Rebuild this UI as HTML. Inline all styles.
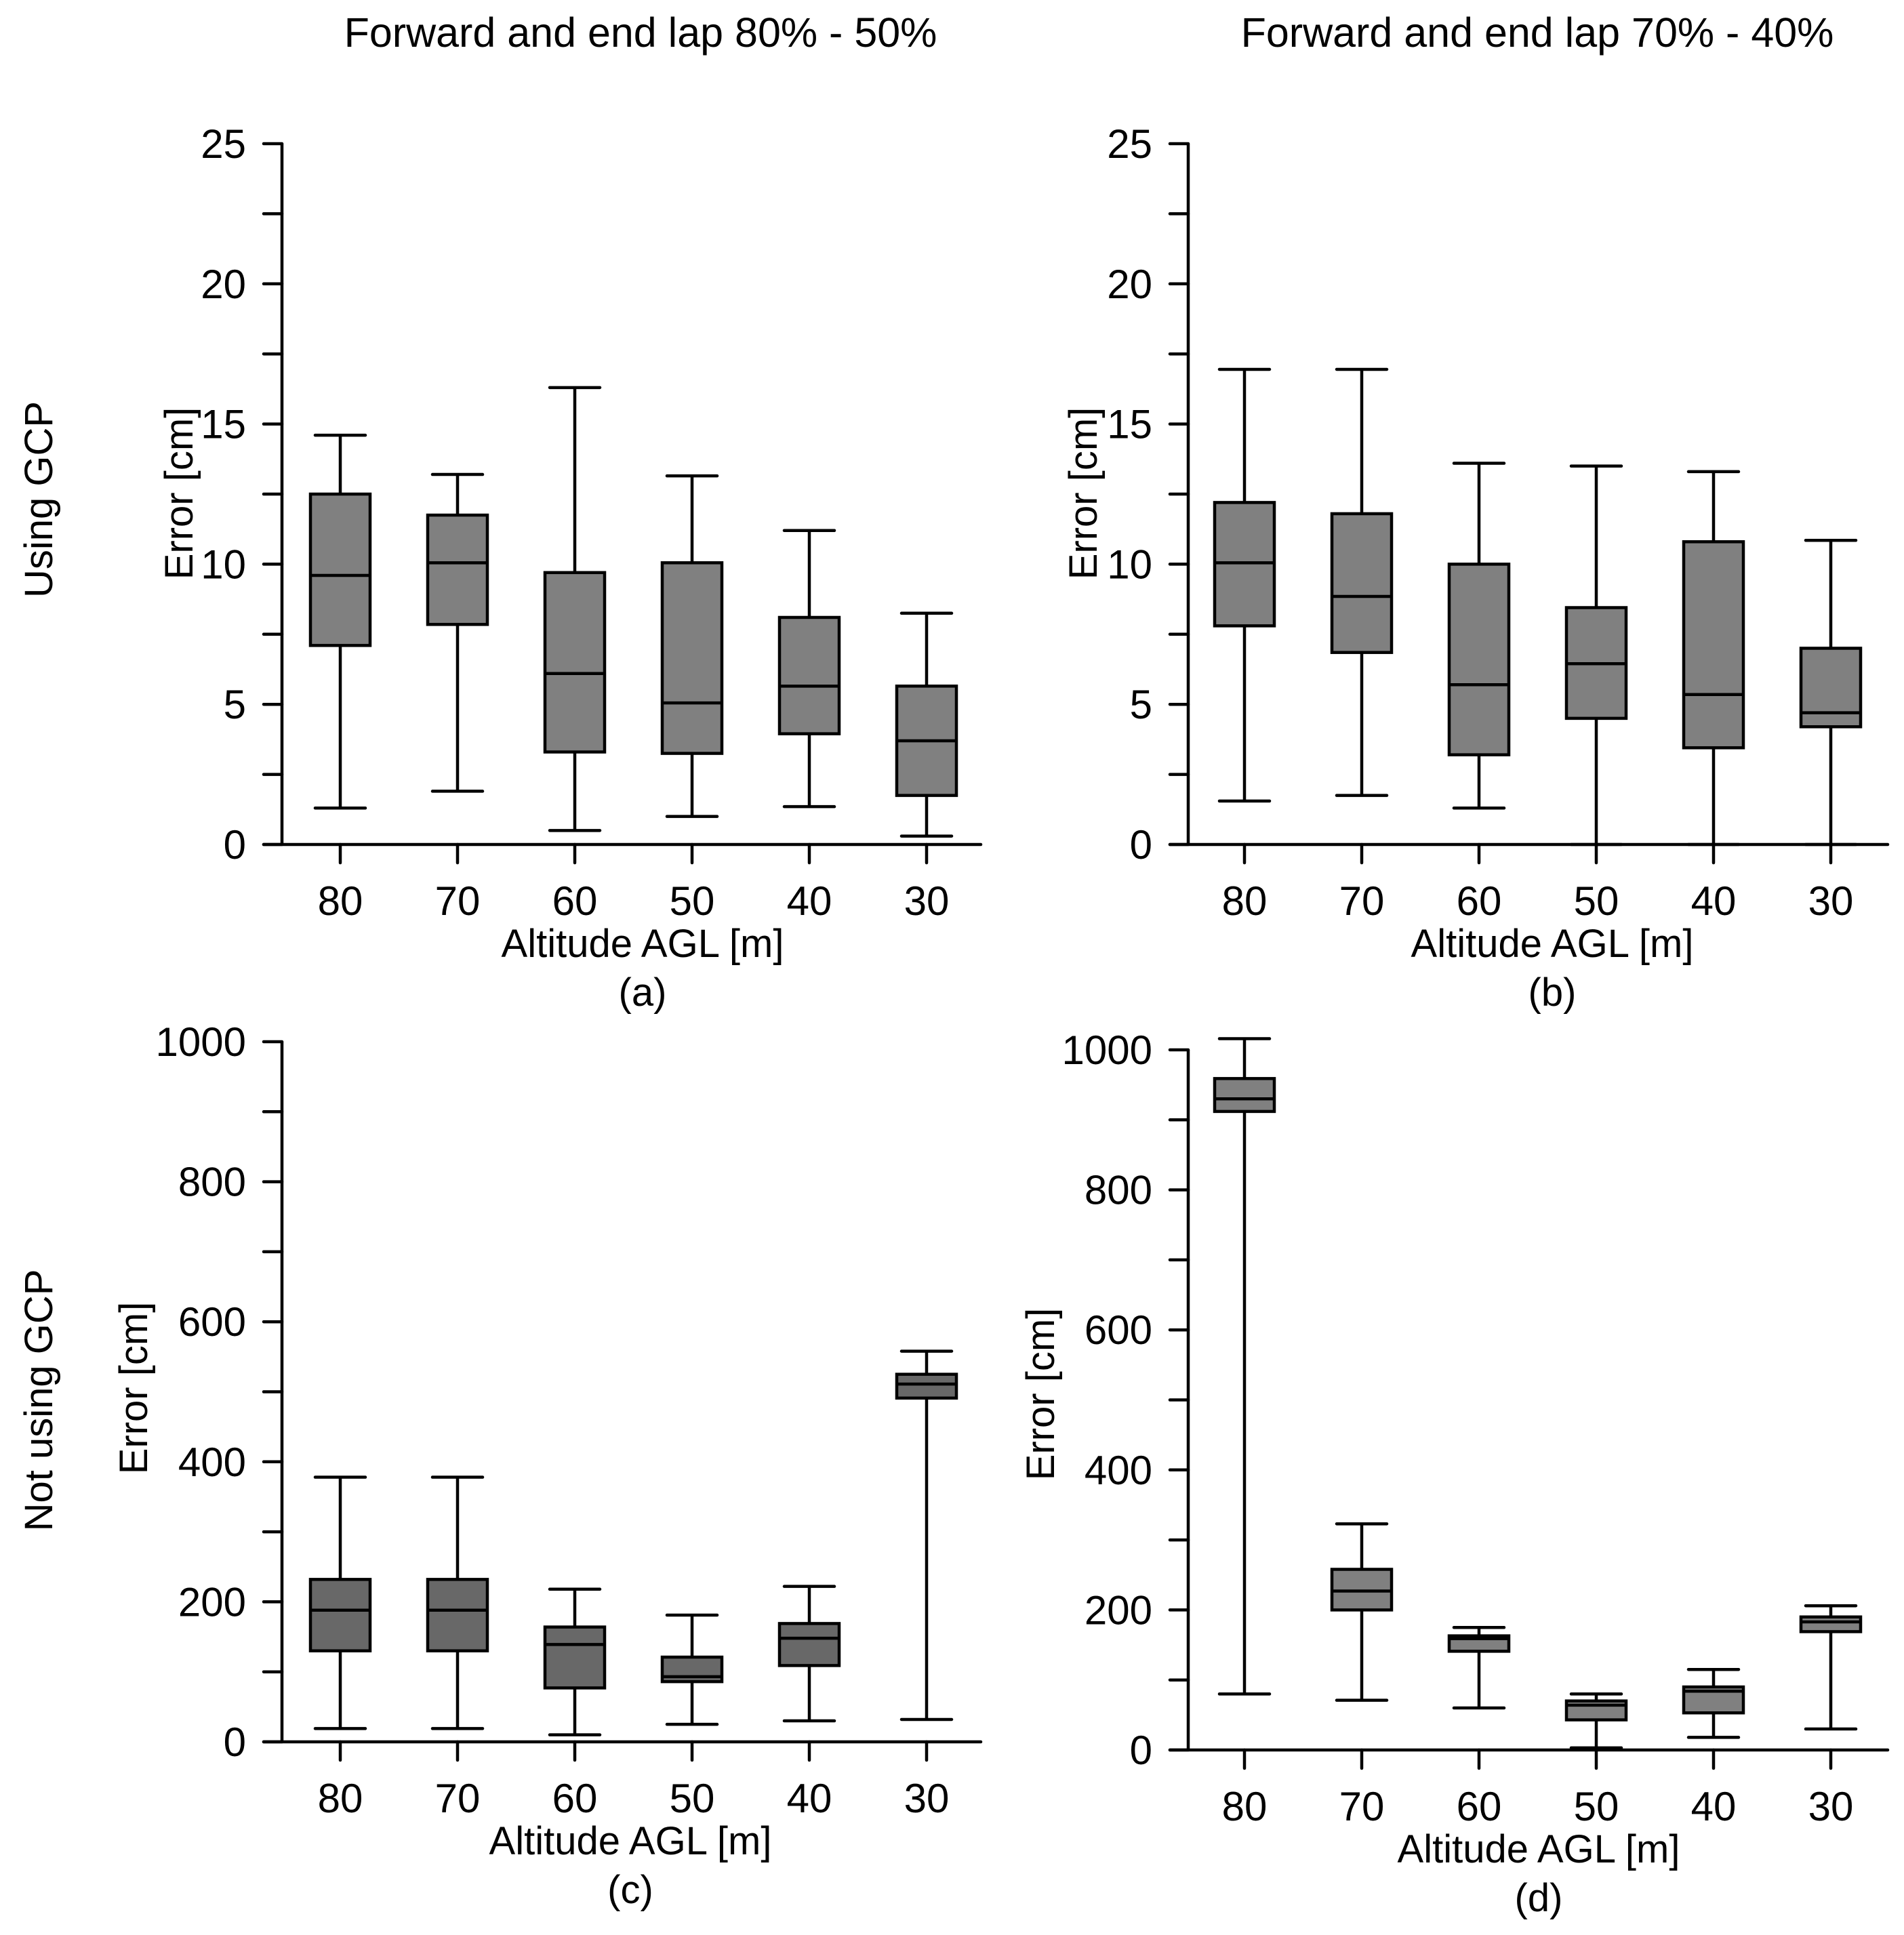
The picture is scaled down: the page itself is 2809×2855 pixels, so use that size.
<!DOCTYPE html>
<html><head><meta charset="utf-8"><style>
html,body{margin:0;padding:0;background:#fff}
svg{display:block}
text{font-family:"Liberation Sans",Arial,sans-serif;fill:#000}
</style></head><body>
<svg id="fig" width="2809" height="2855" viewBox="0 0 2809 2855" xmlns="http://www.w3.org/2000/svg">
<text x="945" y="69" font-size="61" text-anchor="middle">Forward and end lap 80% - 50%</text>
<text x="2268" y="69" font-size="61" text-anchor="middle">Forward and end lap 70% - 40%</text>
<text x="0" y="0" font-size="58" text-anchor="middle" transform="translate(77,737) rotate(-90)">Using GCP</text>
<text x="0" y="0" font-size="58" text-anchor="middle" transform="translate(77,2066) rotate(-90)">Not using GCP</text>
</svg>
<script>
const categories = ["80","70","60","50","40","30"];
// panel a
const aLow=[1.3,1.9,0.5,1.0,1.35,0.3];
const aQ1=[7.1,7.85,3.3,3.25,3.95,1.75];
const aMed=[9.6,10.05,6.1,5.05,5.65,3.7];
const aQ3=[12.5,11.75,9.7,10.05,8.1,5.65];
const aHigh=[14.6,13.2,16.3,13.15,11.2,8.25];
// panel b
const bLow=[1.55,1.75,1.3,0,0,0];
const bQ1=[7.8,6.85,3.2,4.5,3.45,4.2];
const bMed=[10.05,8.85,5.7,6.45,5.35,4.7];
const bQ3=[12.2,11.8,10.0,8.45,10.8,7.0];
const bHigh=[16.95,16.95,13.6,13.5,13.3,10.85];
// panel c
const cLow=[19,19,10,25,30,32];
const cQ1=[130,130,77,86,109,491];
const cMed=[188,188,139,93,148,511];
const cQ3=[232,232,164,121,169,525];
const cHigh=[378,378,218,181,222,558];
// panel d
const dLow=[80,71,60,3,18,30];
const dQ1=[912,200,141,43,53,169];
const dMed=[930,227,159,64,84,183];
const dQ3=[959,258,163,70,90,190];
const dHigh=[1016,323,175,80,115,206];
const smallTicks=[0,5,10,15,20,25];
const bigTicks=[0,200,400,600,800,1000];

const NS="http://www.w3.org/2000/svg";
const svg=document.getElementById('fig');
function mk(tag,attrs,parent){const e=document.createElementNS(NS,tag);for(const k in attrs)e.setAttribute(k,attrs[k]);(parent||svg).appendChild(e);return e;}

function panel(p){
  const g=mk('g',{});
  
  
  const y=v=>p.y0-(v/p.max)*(p.y0-p.yTop);
  const x=i=>p.x0+i*173;
  const sw=4.5;
  const ax=mk('line',{x1:p.ax,y1:y(p.max),x2:p.ax,y2:p.y0,stroke:'#000','stroke-width':sw},g);
  
  
  const xa=mk('line',{x1:p.ax-27,y1:p.y0,x2:p.xEnd,y2:p.y0,stroke:'#000','stroke-width':sw,'stroke-linecap':'round'},g);
  
  
  for(let v=0;v<=p.max+1e-9;v+=p.minor){
    mk('line',{x1:p.ax-27,y1:y(v),x2:p.ax,y2:y(v),stroke:'#000','stroke-width':sw,'stroke-linecap':'round'},g);
  }
  p.ticks.forEach(v=>{
    const t=mk('text',{x:p.ax-53,y:y(v)+21,'font-size':60,'text-anchor':'end'},g);
    t.textContent=String(v);
    
    
  });
  categories.forEach((c,i)=>{
    mk('line',{x1:x(i),y1:p.y0,x2:x(i),y2:p.y0+27,stroke:'#000','stroke-width':sw,'stroke-linecap':'round'},g);
    const t=mk('text',{x:x(i),y:p.y0+104,'font-size':60,'text-anchor':'middle'},g);
    t.textContent=c;
    
    
    const bx=mk('g',{},g);
    
    
    mk('line',{x1:x(i),y1:y(p.hi[i]),x2:x(i),y2:y(p.q3[i]),stroke:'#000','stroke-width':sw},bx);
    mk('line',{x1:x(i),y1:y(p.q1[i]),x2:x(i),y2:y(p.lo[i]),stroke:'#000','stroke-width':sw},bx);
    mk('line',{x1:x(i)-37,y1:y(p.hi[i]),x2:x(i)+37,y2:y(p.hi[i]),stroke:'#000','stroke-width':sw,'stroke-linecap':'round'},bx);
    mk('line',{x1:x(i)-37,y1:y(p.lo[i]),x2:x(i)+37,y2:y(p.lo[i]),stroke:'#000','stroke-width':sw,'stroke-linecap':'round'},bx);
    mk('rect',{x:x(i)-44,y:y(p.q3[i]),width:88,height:y(p.q1[i])-y(p.q3[i]),fill:p.fill,stroke:'#000','stroke-width':sw},bx);
    mk('line',{x1:x(i)-44,y1:y(p.med[i]),x2:x(i)+44,y2:y(p.med[i]),stroke:'#000','stroke-width':sw},bx);
  });
  const xt=mk('text',{x:p.cx,y:p.y0+166,'font-size':58,'text-anchor':'middle'},g);
  xt.textContent='Altitude AGL [m]';
  
  
  const lt=mk('text',{x:p.cx,y:p.y0+238,'font-size':58,'text-anchor':'middle'},g);
  lt.textContent='('+p.id+')';
  
  
  const yt=mk('text',{x:0,y:0,'font-size':58,'text-anchor':'middle',transform:`translate(${p.ylx},${p.yly}) rotate(-90)`},g);
  yt.textContent='Error [cm]';
  
  
}
panel({id:'a',ax:416,y0:1246,yTop:212,max:25,minor:2.5,ticks:smallTicks,x0:502,xEnd:1447,cx:948,ylx:284,yly:728,fill:'#808080',lo:aLow,q1:aQ1,med:aMed,q3:aQ3,hi:aHigh});
panel({id:'b',ax:1753,y0:1246,yTop:212,max:25,minor:2.5,ticks:smallTicks,x0:1836,xEnd:2785,cx:2290,ylx:1618,yly:728,fill:'#808080',lo:bLow,q1:bQ1,med:bMed,q3:bQ3,hi:bHigh});
panel({id:'c',ax:416,y0:2570,yTop:1537,max:1000,minor:100,ticks:bigTicks,x0:502,xEnd:1447,cx:930,ylx:217,yly:2048,fill:'#686868',lo:cLow,q1:cQ1,med:cMed,q3:cQ3,hi:cHigh});
panel({id:'d',ax:1753,y0:2582,yTop:1549,max:1000,minor:100,ticks:bigTicks,x0:1836,xEnd:2785,cx:2270,ylx:1555,yly:2057,fill:'#808080',lo:dLow,q1:dQ1,med:dMed,q3:dQ3,hi:dHigh});
</script>
</body></html>
